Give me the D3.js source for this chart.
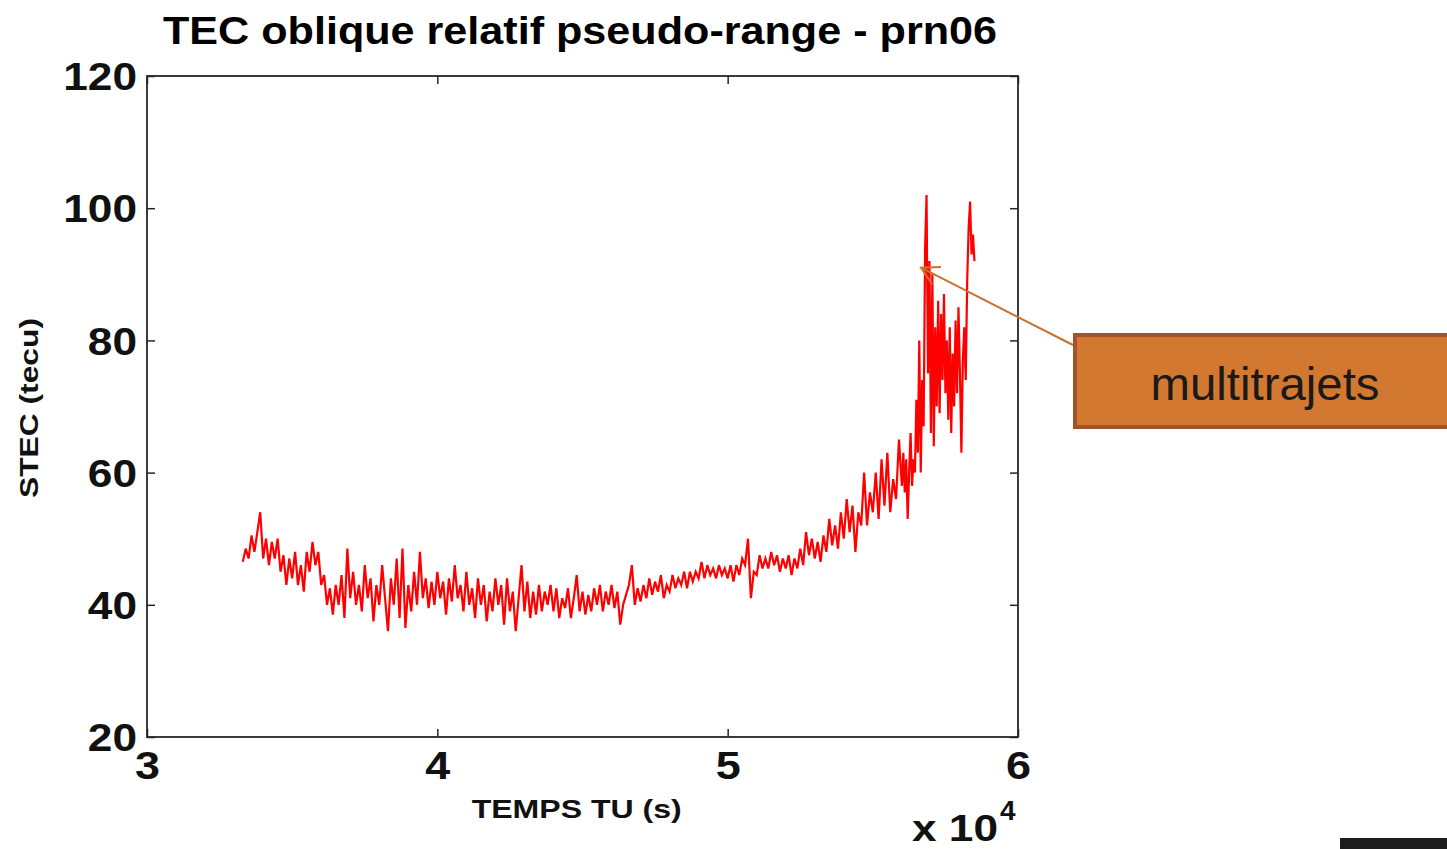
<!DOCTYPE html>
<html>
<head>
<meta charset="utf-8">
<script src="https://cdn.jsdelivr.net/npm/d3@7"></script>
<style>
  body { margin: 0; background: #fff; }
  svg { display: block; }
</style>
</head>
<body>
<svg id="chart" width="1447" height="849"></svg>
<script>
// axis ticks
let xTicks = [3, 4, 5, 6];
let yTicks = [20, 40, 60, 80, 100, 120];

// time (x 10^4 s) and slant TEC (tecu)
let tecTimes = [
  3.33, 3.34, 3.35, 3.36, 3.37, 3.38, 3.39,
  3.40, 3.41, 3.42, 3.43, 3.44, 3.45, 3.46, 3.47, 3.48, 3.49,
  3.50, 3.51, 3.52, 3.53, 3.54, 3.55, 3.56, 3.57, 3.58, 3.59,
  3.60, 3.61, 3.62, 3.63, 3.64, 3.65, 3.66, 3.67, 3.68, 3.69,
  3.70, 3.71, 3.72, 3.73, 3.74, 3.75, 3.76, 3.77, 3.78, 3.79,
  3.80, 3.81, 3.82, 3.83, 3.84, 3.85, 3.86, 3.87, 3.88, 3.89,
  3.90, 3.91, 3.92, 3.93, 3.94, 3.95, 3.96, 3.97, 3.98, 3.99,
  4.00, 4.01, 4.02, 4.03, 4.04, 4.05, 4.06, 4.07, 4.08, 4.09,
  4.10, 4.11, 4.12, 4.13, 4.14, 4.15, 4.16, 4.17, 4.18, 4.19,
  4.20, 4.21, 4.22, 4.23, 4.24, 4.25, 4.26, 4.27, 4.28, 4.29,
  4.30, 4.31, 4.32, 4.33, 4.34, 4.35, 4.36, 4.37, 4.38, 4.39,
  4.40, 4.41, 4.42, 4.43, 4.44, 4.45, 4.46, 4.47, 4.48, 4.49,
  4.50, 4.51, 4.52, 4.53, 4.54, 4.55, 4.56, 4.57, 4.58, 4.59,
  4.60, 4.61, 4.62, 4.63, 4.64, 4.65, 4.66, 4.67, 4.68, 4.69,
  4.70, 4.71, 4.72, 4.73, 4.74, 4.75, 4.76, 4.77, 4.78, 4.79,
  4.80, 4.81, 4.82, 4.83, 4.84, 4.85, 4.86, 4.87, 4.88, 4.89,
  4.90, 4.91, 4.92, 4.93, 4.94, 4.95, 4.96, 4.97, 4.98, 4.99,
  5.00, 5.01, 5.02, 5.03, 5.04, 5.05, 5.06, 5.07, 5.08, 5.09,
  5.10, 5.11, 5.12, 5.13, 5.14, 5.15, 5.16, 5.17, 5.18, 5.19,
  5.20, 5.21, 5.22, 5.23, 5.24, 5.25, 5.26, 5.27, 5.28, 5.29,
  5.30, 5.31, 5.32, 5.33, 5.34, 5.35, 5.36, 5.37, 5.38, 5.39,
  5.40, 5.41, 5.42, 5.43, 5.44, 5.45, 5.46, 5.47, 5.48, 5.49,
  5.50, 5.51, 5.52, 5.53, 5.54, 5.55, 5.56, 5.57, 5.58, 5.59,
  5.600, 5.605, 5.610, 5.615, 5.620, 5.625, 5.630, 5.635, 5.640, 5.645,
  5.650, 5.655, 5.660, 5.665, 5.670, 5.675, 5.680, 5.685, 5.690, 5.695,
  5.700, 5.705, 5.710, 5.715, 5.720, 5.725, 5.730, 5.735, 5.740, 5.745,
  5.750, 5.755, 5.760, 5.765, 5.770, 5.775, 5.780, 5.785, 5.790, 5.795,
  5.800, 5.805, 5.810, 5.815, 5.820, 5.825, 5.830, 5.835, 5.840, 5.845, 5.850
];
let tecValues = [
  46.5, 48.5, 47, 50.5, 48, 51, 54,
  47, 50, 46, 49.5, 47, 50, 45, 47.5, 43, 47,
  44, 48, 43, 46, 42, 48, 45, 49.5, 46, 48,
  43, 44.5, 40, 42.5, 38.5, 43, 40, 44.5, 38, 48.5,
  41, 45, 40, 43, 39, 46, 41, 44, 37.5, 43,
  40, 46, 41, 36, 44, 40, 47, 38, 48.5, 36.5,
  43, 39, 45, 40, 48, 41, 44, 39.5, 43.5, 40,
  45, 41, 43.5, 38.5, 44, 40.5, 46, 41, 43, 39,
  45, 40, 42.5, 38, 44, 40, 43, 37.5, 42, 39,
  44, 40, 43, 37, 44, 39, 42, 36, 41, 46,
  39, 43.5, 38, 42, 38.5, 43, 39, 42, 40, 43,
  39, 42.5, 38, 41, 39.5, 42.5, 38, 41, 44.5, 39,
  42, 38.5, 41.5, 39, 42.5, 40, 43, 39, 42, 40,
  43, 39.5, 42, 37, 40, 41.5, 43, 46, 40, 42.5,
  40.5, 43, 41, 44, 41.5, 43.5, 42, 44.5, 41, 43,
  42, 44.5, 42.5, 44, 43, 45, 42.5, 45, 43.5, 45,
  44, 46.5, 44, 46, 44.5, 45.5, 44, 46, 44.5, 45.5,
  44, 46, 43.5, 46, 44.5, 47, 46, 50, 41, 45,
  44.5, 47.5, 45.5, 47, 45.5, 48, 46, 47.5, 45, 47,
  45.5, 47.5, 44.5, 47, 45.5, 48.5, 46, 51, 47.5, 50,
  47, 49.5, 46.5, 50.5, 48, 53, 49, 52, 48.5, 54,
  50, 56, 51, 55, 48, 54, 52, 60, 52, 57,
  54, 60, 53, 62, 55, 63, 54, 59, 56, 65,
  58, 63, 57, 62, 53, 60, 66, 58, 62, 60,
  71, 63, 80, 60, 74, 67, 94, 102, 75, 92,
  66, 90, 64, 82, 70, 86, 69, 84, 74, 87,
  72, 80, 68, 82, 66, 78, 70, 83, 72, 85,
  75, 63, 77, 82, 74, 89, 97, 101, 93, 96, 92
];

let svgWidth = 1447;
let svgHeight = 849;
let padding = {t: 76, r: 429, b: 112, l: 147};
let chartWidth = svgWidth - padding.l - padding.r;
let chartHeight = svgHeight - padding.t - padding.b;

let svg = d3.select('#chart');
let font = "'Liberation Sans', Arial, sans-serif";
let axisColor = '#262626';

let x = d3.scaleLinear().domain([3, 6]).range([0, chartWidth]);
let y = d3.scaleLinear().domain([20, 120]).range([chartHeight, 0]);

let chart = svg.append('g')
    .attr('transform', 'translate(' + padding.l + ',' + padding.t + ')');

let data = tecTimes.map((t, i) => ({t: t, v: tecValues[i]}));

// red STEC trace
let line = d3.line().x(d => x(d.t)).y(d => y(d.v));
chart.append('path')
    .datum(data)
    .attr('d', line)
    .attr('fill', 'none')
    .attr('stroke', '#ff0000')
    .attr('stroke-width', 2.2);

// axes, ticks pointing inward on all four sides
function styleAxis(g) {
    g.select('.domain').remove();
    g.selectAll('.tick line').attr('stroke', axisColor).attr('stroke-width', 1.5);
}

let xAxis = chart.append('g')
    .attr('transform', 'translate(0,' + chartHeight + ')')
    .call(d3.axisBottom(x).tickValues(xTicks).tickSize(-8).tickPadding(15).tickFormat(d3.format('d')))
    .call(styleAxis);
xAxis.selectAll('text')
    .attr('fill', '#111')
    .attr('font-family', font)
    .attr('font-weight', 'bold')
    .attr('font-size', '38px')
    .attr('textLength', 25)
    .attr('lengthAdjust', 'spacingAndGlyphs');

chart.append('g')
    .call(d3.axisTop(x).tickValues(xTicks).tickSize(-8).tickFormat(''))
    .call(styleAxis);

let yAxis = chart.append('g')
    .call(d3.axisLeft(y).tickValues(yTicks).tickSize(-8).tickPadding(10).tickFormat(d3.format('d')))
    .call(styleAxis);
yAxis.selectAll('text')
    .attr('fill', '#111')
    .attr('font-family', font)
    .attr('font-weight', 'bold')
    .attr('font-size', '38px')
    .attr('dy', '0.36em')
    .attr('textLength', d => String(d).length * 24.6)
    .attr('lengthAdjust', 'spacingAndGlyphs');

chart.append('g')
    .attr('transform', 'translate(' + chartWidth + ',0)')
    .call(d3.axisRight(y).tickValues(yTicks).tickSize(-8).tickFormat(''))
    .call(styleAxis);

chart.append('rect')
    .attr('width', chartWidth)
    .attr('height', chartHeight)
    .attr('fill', 'none')
    .attr('stroke', axisColor)
    .attr('stroke-width', 1.8);

// title and axis labels
svg.append('text')
    .attr('x', 580).attr('y', 44)
    .attr('text-anchor', 'middle')
    .attr('font-family', font).attr('font-weight', 'bold').attr('font-size', '39px')
    .attr('textLength', 834).attr('lengthAdjust', 'spacingAndGlyphs')
    .attr('fill', '#000')
    .text('TEC oblique relatif pseudo-range - prn06');

svg.append('text')
    .attr('x', padding.l + x(4.48)).attr('y', 818)
    .attr('text-anchor', 'middle')
    .attr('font-family', font).attr('font-weight', 'bold').attr('font-size', '26px')
    .attr('textLength', 210).attr('lengthAdjust', 'spacingAndGlyphs')
    .attr('fill', '#111')
    .text('TEMPS TU (s)');

svg.append('text')
    .attr('transform', 'translate(38,408) rotate(-90)')
    .attr('text-anchor', 'middle')
    .attr('font-family', font).attr('font-weight', 'bold').attr('font-size', '25px')
    .attr('textLength', 180).attr('lengthAdjust', 'spacingAndGlyphs')
    .attr('fill', '#111')
    .text('STEC (tecu)');

// exponent "x 10^4"
svg.append('text')
    .attr('x', 912).attr('y', 841)
    .attr('font-family', font).attr('font-weight', 'bold').attr('font-size', '36px')
    .attr('textLength', 86).attr('lengthAdjust', 'spacingAndGlyphs')
    .attr('fill', '#111')
    .text('x 10');
svg.append('text')
    .attr('x', 1000).attr('y', 820)
    .attr('font-family', font).attr('font-weight', 'bold').attr('font-size', '28px')
    .attr('fill', '#111')
    .text('4');

// annotation: arrow + box
let tipX = padding.l + x(5.666);
let tipY = padding.t + y(91);
let tailX = 1073, tailY = 345;
let arrowColor = '#c8732f';
svg.append('line')
    .attr('x1', tailX).attr('y1', tailY)
    .attr('x2', tipX).attr('y2', tipY)
    .attr('stroke', arrowColor).attr('stroke-width', 2);
let ang = Math.atan2(tailY - tipY, tailX - tipX);
let headLen = 20, headAng = Math.PI / 6.2;
svg.append('path')
    .attr('d', 'M' + (tipX + headLen * Math.cos(ang - headAng)) + ',' + (tipY + headLen * Math.sin(ang - headAng)) +
               'L' + tipX + ',' + tipY +
               'L' + (tipX + headLen * Math.cos(ang + headAng)) + ',' + (tipY + headLen * Math.sin(ang + headAng)))
    .attr('fill', 'none')
    .attr('stroke', arrowColor).attr('stroke-width', 2);

svg.append('rect')
    .attr('x', 1075).attr('y', 335)
    .attr('width', 380).attr('height', 92)
    .attr('fill', '#d27831')
    .attr('stroke', '#a3522c')
    .attr('stroke-width', 4);
svg.append('text')
    .attr('x', 1265).attr('y', 400)
    .attr('text-anchor', 'middle')
    .attr('font-family', font).attr('font-size', '47px')
    .attr('textLength', 229).attr('lengthAdjust', 'spacingAndGlyphs')
    .attr('fill', '#1a1a1a')
    .text('multitrajets');

// dark strip at bottom right
svg.append('rect')
    .attr('x', 1340).attr('y', 838)
    .attr('width', 107).attr('height', 11)
    .attr('fill', '#1c1c1c');
</script>
</body>
</html>
